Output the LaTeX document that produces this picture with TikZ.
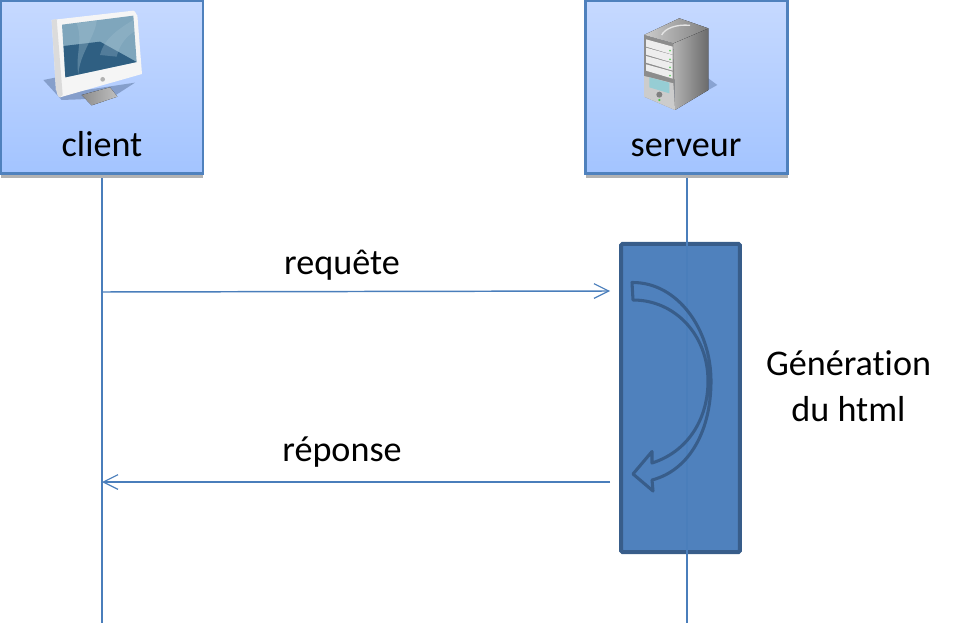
\documentclass[tikz,border=0pt]{standalone}
\usepackage{fontspec}
\setmainfont[Ligatures=NoCommon]{Carlito}
\usetikzlibrary{arrows.meta}
\definecolor{linecol}{HTML}{4A7EBB}
\definecolor{boxedge}{HTML}{4F81BD}
\definecolor{actfill}{HTML}{4F81BD}
\definecolor{actedge}{HTML}{385D8A}
\definecolor{boxtop}{HTML}{C6D9FF}
\definecolor{boxbot}{HTML}{A3C4FF}
\definecolor{screenlight}{HTML}{7FA6BC}
\definecolor{screendark}{HTML}{2F5F82}
\definecolor{swoosh}{HTML}{A4C2D2}
\tikzset{
  actorbox/.style={draw=boxedge,line width=2.2pt,top color=boxtop,bottom color=boxbot,minimum width=151.5pt,minimum height=129.5pt,inner sep=0pt},
  shadowbar/.style={fill=black!30,draw=none,minimum width=152pt,minimum height=3.2pt,inner sep=0pt},
  txt/.style={font=\fontsize{27.1pt}{32pt}\selectfont,text=black,inner sep=0pt,align=center},
  baselabel/.style={txt,anchor=base},
  lifeline/.style={draw=linecol,line width=1.1pt},
  msgline/.style={lifeline,-{Straight Barb[length=11pt,width=11pt,line width=0.9pt]}},
  actbox/.style={draw=actedge,line width=3pt,fill=actfill,rounded corners=1pt,minimum width=89pt,minimum height=231pt,inner sep=0pt},
  curvearrow/.style={draw=actedge,line width=2.3pt,line join=round}
}
\begin{document}
\begin{tikzpicture}[x=0.75pt,y=-0.75pt]
\useasboundingbox (0,0) rectangle (955,623);
% coordinates
\coordinate (clientend) at (102,623);
\coordinate (serverend) at (687,623);
\coordinate (reqstart) at (102,292);
\coordinate (reqend) at (610,291);
\coordinate (repstart) at (610,482);
\coordinate (repend) at (102,482);
% shadows and boxes
\node[shadowbar] (clientshadow) at (102,175.5) {};
\node[shadowbar] (servershadow) at (687,175.5) {};
\node[actorbox] (clientbox) at (102,87) {};
\node[actorbox] (serverbox) at (686.5,87) {};
% activation box
\node[actbox] (activation) at (680.5,398) {};
% lifelines
\draw[lifeline] (clientshadow.south -| clientend) -- (clientend);
\draw[lifeline] (servershadow.south -| serverend) -- (serverend);
% curved arrow
\draw[curvearrow] (632,282.5)
  .. controls (678,282) and (711,330) .. (711,381)
  .. controls (711,430) and (690,470) .. (652,480)
  -- (653,491) -- (633,474) -- (652,451.5) -- (652,463)
  .. controls (687,452) and (708,420) .. (708,381)
  .. controls (708,335) and (675,300) .. (633,300) -- cycle;
% messages
\draw[msgline] (reqstart) -- (reqend);
\draw[msgline] (repstart) -- (repend);
% monitor icon
\begin{scope}[shift={(0,0)},x=0.25pt,y=-0.25pt]
  \fill[fill=black!25!boxbot,opacity=.8] (130,240) -- (170,232) -- (190,280) -- (405,248) -- (340,290) -- (240,298) -- (185,300) -- cycle;
  \fill[left color=black!45,right color=black!25] (245,285) -- (330,262) -- (352,290) -- (275,316) -- cycle;
  \fill[white!96!black] (155,60) -- (400,32) to[out=0,in=-95] (412,45) -- (426,222) -- (180,292) to[out=190,in=80] (168,270) -- cycle;
  \fill[black!14] (155,60) -- (170,57) -- (188,285) -- (180,292) to[out=190,in=80] (168,270) -- cycle;
  \fill[screenlight] (186,74) -- (400,47) -- (410,186) -- (196,232) -- cycle;
  \fill[screendark] (191,138) -- (300,125) -- (410,186) -- (196,232) -- cycle;
  \fill[swoosh,opacity=.35] (230,70) .. controls (250,120) and (225,170) .. (235,222) .. controls (240,160) and (285,110) .. (290,62) -- cycle;
  \fill[swoosh,opacity=.3] (400,60) .. controls (350,90) and (310,120) .. (300,165) -- (350,170) .. controls (360,130) and (380,110) .. (402,95) -- cycle;
  \fill[black!30] (308,238) circle[radius=7];
\end{scope}
% server icon
\begin{scope}[shift={(580,0)},x=0.25pt,y=-0.25pt]
  \fill[fill=black!22!boxbot,opacity=.8] (385,235) -- (412,255) -- (385,270) -- cycle;
  \fill[left color=black!30,right color=black!58] (280,130) -- (385,85) -- (385,270) -- (285,330) -- cycle;
  \fill[left color=black!20,right color=black!50] (192,105) -- (298,55) -- (385,85) -- (280,130) -- cycle;
  \draw[black!10,line width=1pt] (245,105) .. controls (255,85) and (290,72) .. (330,76);
  \fill[black!45] (192,105) -- (280,130) -- (285,330) -- (192,290) -- cycle;
  \fill[black!20] (192,228) -- (280,250) -- (285,330) -- (192,290) -- cycle;
  \foreach \a/\b in {118/140,143/164,168/188,193/212}{
    \fill[black!7] (198,\a) -- (278,\a+22) -- (278,\b+24) -- (198,\b) -- cycle;
  }
  \foreach \y in {152,178,202,227}{
    \fill[green!70!black!60] (270,\y) circle[radius=3];
  }
  \fill[color={rgb,255:red,150;green,205;blue,212}] (208,232) -- (268,248) -- (268,280) -- (208,262) -- cycle;
  \fill[black!50] (238,284) circle[radius=9];
  \fill[green!70!black!70] (238,300) circle[radius=3.5];
\end{scope}
% labels
\node[baselabel] (clientlabel) at (102,157) {client};
\node[baselabel] (serverlabel) at (686,157) {serveur};
\node[baselabel] (reqlabel) at (342,275) {requête};
\node[baselabel] (replabel) at (342,461) {réponse};
\node[txt] (genlabel) at (848.5,386.5) {Génération\\[2.5pt]du html};
\end{tikzpicture}
\end{document}
